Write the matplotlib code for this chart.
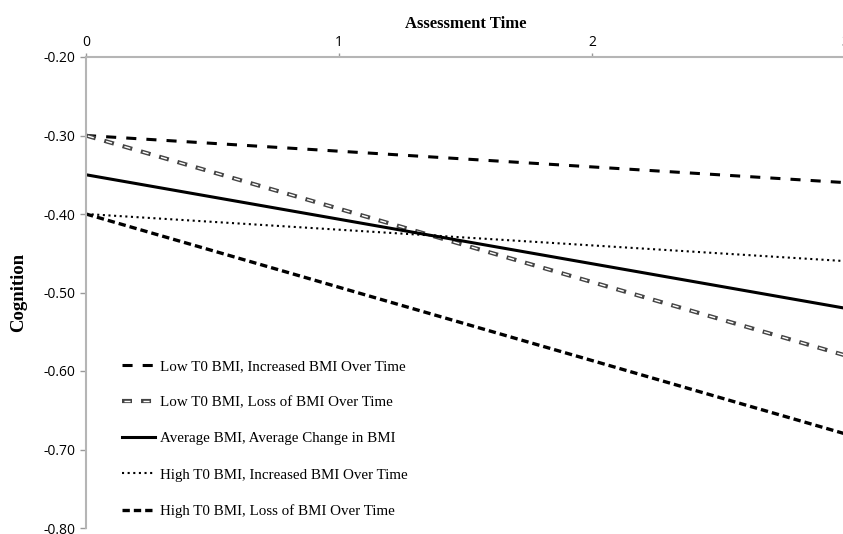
import matplotlib
matplotlib.use("Agg")
import matplotlib.pyplot as plt

# assessment times and predicted cognition per group
times = [0, 3]
low_increased = [-0.30, -0.36]
low_loss = [-0.30, -0.58]
average = [-0.35, -0.52]
high_increased = [-0.40, -0.46]
high_loss = [-0.40, -0.68]

labels = [
    "Low T0 BMI, Increased BMI Over Time",
    "Low T0 BMI, Loss of BMI Over Time",
    "Average BMI, Average Change in BMI",
    "High T0 BMI, Increased BMI Over Time",
    "High T0 BMI, Loss of BMI Over Time",
]
y_ticks = [-0.20, -0.30, -0.40, -0.50, -0.60, -0.70, -0.80]
x_ticks = [0, 1, 2, 3]

fig = plt.figure(figsize=(8.43, 5.34), dpi=100)
ax = fig.add_axes([86 / 843, 6 / 534, 759 / 843, 471 / 534])

l1, = ax.plot(times, low_increased, color="black", lw=2.2, linestyle=(0, (3.3, 3.3)))
# outlined dashes: dark outer stroke with a white core
l2a, = ax.plot(times, low_loss, color="#444444", lw=3.0, linestyle=(0, (2.4, 2.17)))
l2b, = ax.plot(times, low_loss, color="white", lw=1.0, linestyle=(12.3, (4.4, 9.3)))
l3, = ax.plot(times, average, color="black", lw=2.2)
l4, = ax.plot(times, high_increased, color="black", lw=1.5, linestyle=(0, (1, 1.7)))
l5, = ax.plot(times, high_loss, color="black", lw=2.4, linestyle=(0, (2.2, 1.2)))

ax.set_xlim(0, 3)
ax.set_ylim(-0.80, -0.20)
ax.set_xticks(x_ticks)
ax.set_yticks(y_ticks)
ax.set_yticklabels(["%.2f" % v for v in y_ticks])
ax.xaxis.tick_top()
ax.xaxis.set_label_position("top")
ax.tick_params(axis="both", colors="#999999", labelcolor="black", length=4,
               width=1, labelsize=10)
ax.tick_params(axis="x", length=3, pad=2)
for lab in ax.get_xticklabels() + ax.get_yticklabels():
    lab.set_fontfamily("Open Sans")

for side in ["bottom", "right"]:
    ax.spines[side].set_visible(False)
for side in ["top", "left"]:
    ax.spines[side].set_color("#b5b5b5")
    ax.spines[side].set_linewidth(1.5)

ax.set_xlabel("Assessment Time", fontfamily="Liberation Serif", fontweight="bold",
              fontsize=12, labelpad=5)
ax.set_ylabel("Cognition", fontfamily="Liberation Serif", fontweight="bold",
              fontsize=13.5, labelpad=12)

leg = ax.legend([l1, (l2a, l2b), l3, l4, l5], labels, loc="lower left",
                bbox_to_anchor=(0.03, -0.008), frameon=False,
                prop={"family": "Liberation Serif", "size": 10.8},
                handlelength=2.2, labelspacing=1.52, handletextpad=0.3)

fig.savefig("out.png", dpi=100)
